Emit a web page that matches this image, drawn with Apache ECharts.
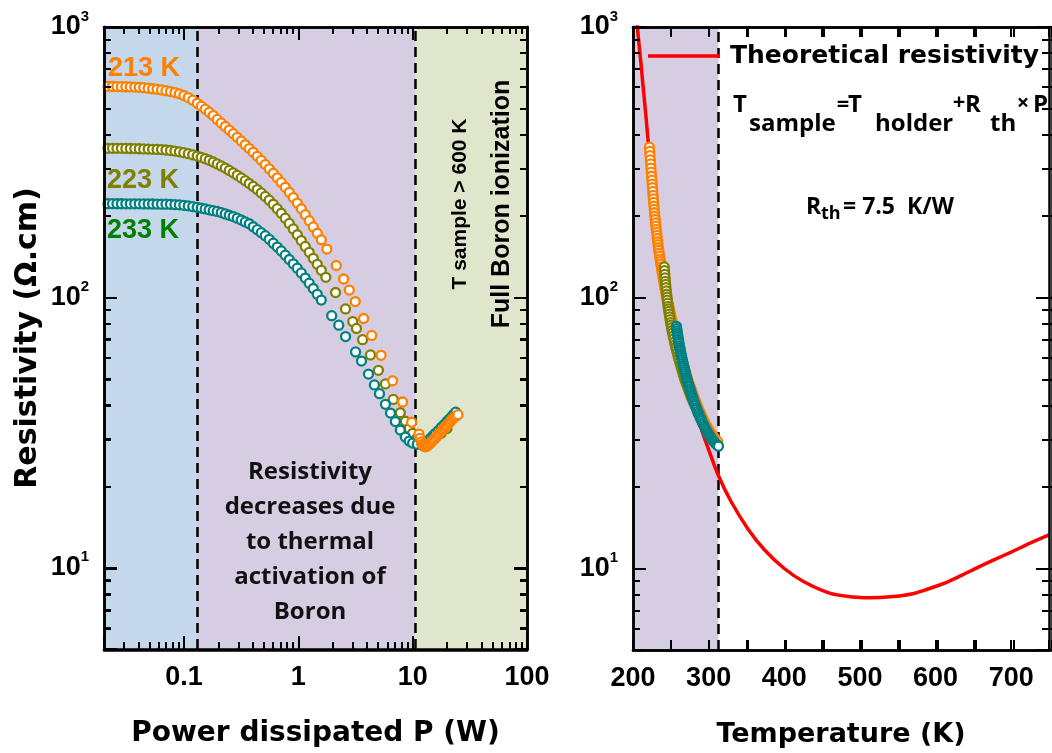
<!DOCTYPE html>
<html><head><meta charset="utf-8">
<script src="https://cdn.jsdelivr.net/npm/echarts@6/dist/echarts.min.js"></script>
<style>html,body{margin:0;padding:0;background:#fff}
#c,#ticks{position:absolute;left:0;top:0;width:1052px;height:753px}
#c{z-index:1}
#ticks{pointer-events:none;z-index:2}</style>
</head><body><div id="c"></div><div id="ticks"></div>
<script>
// ---------------- data ----------------
// Left panel: power steps shared by the three holder temperatures (low / mid range)
const powerLow = [0.02168,0.02371,0.02594,0.02838,0.03105,0.03396,0.03715,0.04064,0.04446,0.04864,0.05321,0.05821,0.06368,0.06966,0.07621,0.08337,0.0912,0.0998,0.1091,0.1194,0.1306,0.1416,0.1535,0.1663,0.1803,0.1954,0.2118,0.2296,0.2489,0.2698,0.2924,0.3170,0.3436,0.3724,0.4036,0.4375,0.4742,0.5140,0.5572,0.6039,0.6546,0.7096,0.7691,0.8337,0.9036,0.9795,1.062,1.151,1.247,1.352,1.466,1.589];
const rho213Low = [602.6,602.4,602.1,601.7,601.2,600.3,599.4,598.0,596.2,593.9,591.0,588.3,585.1,581.3,577.0,572.1,566.0,557.9,548.0,536.1,522.3,509.6,496.8,483.7,470.4,455.0,441.6,428.5,415.7,403.0,390.7,378.6,366.7,355.0,343.8,332.4,321.1,309.8,298.7,287.7,276.8,266.0,255.2,244.5,233.8,223.2,212.6,202.2,192.1,182.2,172.6,163.3];
const rho223Low = [355.9,355.9,355.8,355.7,355.5,355.3,354.9,354.5,354.0,353.5,352.8,352.4,351.9,350.8,349.3,347.5,345.3,342.7,339.8,336.6,333.0,329.5,325.7,321.4,316.7,311.6,306.2,300.6,294.7,288.7,282.6,276.4,270.1,263.7,257.2,250.4,243.4,236.2,228.7,220.9,212.8,204.6,196.2,187.6,179.1,170.4,162.1,154.2,146.7,139.4,132.5,125.8];
const rho233Low = [222.0,222.0,221.9,221.9,221.8,221.8,221.7,221.7,221.6,221.5,221.4,221.3,221.1,221.0,220.8,220.4,219.8,218.9,217.9,216.6,215.3,213.8,212.3,210.7,209.2,207.9,205.8,203.5,201.2,198.9,196.3,193.2,190.1,187.1,182.4,177.9,173.4,169.1,163.9,158.6,153.4,148.4,143.2,138.0,133.0,128.2,123.1,117.8,112.8,107.8,102.6,97.7];
// Left panel: high-power parts
const power213High = [1.778,2.148,2.489,2.793,3.148,3.724,4.385,5.297,6.683,8.166,9.795,11.35,11.61,11.89,12.16,12.45,12.79,13.18,13.58,14.00,14.42,14.86,15.31,15.78,16.26,16.75,17.26,17.78,18.32,18.88,19.45,20.04,20.65,21.28,21.93,22.59,23.28,23.99,24.89];
const rho213High = [150.8,131.1,116.9,106.4,96.4,83.5,72.3,61.0,49.1,41.0,34.5,31.2,30.06,29.17,28.58,28.18,27.99,28.05,28.31,28.64,28.97,29.38,29.79,30.20,30.62,31.05,31.48,31.92,32.36,32.81,33.27,33.73,34.20,34.67,35.16,35.65,36.06,36.39,36.81];
const power223High = [1.742,2.118,2.588,2.992,3.228,3.648,4.276,5.023,5.781,6.776,7.798,8.630,9.33,10.0,10.96,12.02,13.18,14.45,15.85,17.78,19.95];
const rho223High = [118.6,104.2,90.6,81.3,76.7,69.7,61.2,53.7,47.8,41.9,37.4,34.8,32.7,31.4,30.2,29.5,29.4,29.6,30.3,31.4,32.7];
const power233High = [1.96,2.26,2.59,3.17,3.57,4.11,4.63,5.13,5.78,6.40,7.06,7.80,8.63,9.33,10.0,10.96,12.02,12.59,13.18,13.8,14.45,15.14,15.85,16.79,17.78,18.84,19.95,20.89,21.88,22.9,23.82];
const rho233High = [85.5,78.9,71.6,62.8,58.1,52.0,47.4,44.0,40.2,37.3,34.7,32.3,30.4,29.4,28.9,28.6,28.7,28.9,29.2,29.6,30.2,30.8,31.4,32.1,33.0,33.8,34.7,35.4,36.1,36.9,37.6];

// Right panel: resistivity vs sample temperature
const temp213 = [221.7,222.1,222.5,222.9,223.3,223.7,224.1,224.5,224.9,225.3,225.7,226.1,226.5,226.9,227.3,227.7,228.1,228.5,228.9,229.35,229.8,230.25,230.7,231.15,231.6,232.1,232.6,233.1,233.6,234.1,234.6,235.15,235.7,236.25,236.8,237.4,238,238.6,239.2,239.85,240.5,241.15,241.8,242.5,243.2,243.95,244.7,245.5,246.3,247.15,248,248.9,249.8,250.75,251.7,252.7,253.7,254.75,255.8,256.9,258,259.15,260.3,261.5,262.7,263.95,265.2,266.5,267.8,269.15,270.5,271.9,273.3,274.75,276.2,277.7,279.2,280.75,282.3,283.9,285.5,287.15,288.8,290.5,292.2,293.95,295.7,297.5,299.3,301.15,303,304.9,306.8,308.75,310.7,312];
const rhoT213 = [360,347,335,323,312,301,291,281,272,263,255,247,239,232,225,218,212,206,200,194.5,189,184,179,174.5,170,165.5,161,157,153,149.5,146,142.5,139,136,133,130,127,124,121,118,115,112.5,110,107.5,105,102.5,100,97.7,95.5,93.2,91,88.7,86.5,84.2,82,79.7,77.5,75.2,73,71,69,67,65,63.2,61.5,59.7,58,56.5,55,53.5,52,50.5,49,47.7,46.5,45.2,44,42.8,41.7,40.6,39.6,38.6,37.6,36.7,35.8,35,34.2,33.5,32.8,32.2,31.6,31.1,30.6,30.1,29.7,29.4];
const temp223 = [241.3,241.65,242,242.4,242.8,243.2,243.6,244.05,244.5,244.95,245.4,245.9,246.4,246.9,247.4,247.95,248.5,249.1,249.7,250.35,251,251.7,252.4,253.2,254,254.85,255.7,256.6,257.5,258.5,259.5,260.55,261.6,262.8,264,265.25,266.5,267.75,269,270.5,272,273.5,275,276.75,278.5,280.25,282,284,286,288,290];
const rhoT223 = [130,126,122,118.5,115,112,109,106,103,100.5,98,95.5,93,91,89,87,85,83,81,79.2,77.5,75.7,74,72.2,70.5,68.7,67,65.5,64,62.5,61,59.5,58,56.5,55,53.5,52,50.7,49.5,48.2,47,45.7,44.5,43.2,42,41,40,38.9,37.8,36.8,35.8];
const temp233 = [257.4,257.8,258.2,258.6,259,259.45,259.9,260.35,260.8,261.3,261.8,262.3,262.8,263.35,263.9,264.45,265,265.6,266.2,266.8,267.4,268.05,268.7,269.35,270,270.7,271.4,272.1,272.8,273.55,274.3,275.05,275.8,276.6,277.4,278.25,279.1,279.95,280.8,281.7,282.6,283.55,284.5,285.5,286.5,287.55,288.6,289.7,290.8,291.95,293.1,294.3,295.5,296.75,298,299.3,300.6,301.95,303.3,304.7,306.1,307.55,309,310.5,312,313];
const rhoT233 = [78.4,76.9,75.5,74.1,72.8,71.5,70.2,69,67.8,66.6,65.5,64.4,63.3,62.2,61.2,60.2,59.2,58.2,57.2,56.2,55.3,54.4,53.5,52.6,51.7,50.8,50,49.2,48.4,47.6,46.9,46.1,45.4,44.7,44,43.3,42.6,41.9,41.3,40.6,40,39.3,38.7,38,37.4,36.8,36.2,35.6,35.1,34.5,34,33.5,33,32.5,32,31.5,31.1,30.7,30.3,29.9,29.6,29.3,29,28.7,28.5,28.3];
const theoryT = [204,206,208,210,212.5,215,217.5,220,225,230,235,240,245,250,260,270,280,290,300,313,330,352,374,400,426,461,490,513,540,570,590,613,635,656,680,700,725,750];
const theoryRho = [1200,990,860,760,640,540,455,380,275,205,158,125,103,86,64,50,40.5,33,27.5,22.0,17.6,14.0,11.7,10.0,8.93,8.09,7.85,7.80,7.86,8.07,8.40,8.85,9.45,10.1,10.85,11.5,12.4,13.3];

const seriesNames = ['213 K', '223 K', '233 K'];
const seriesColors = ['#ff8000', '#808000', '#008080'];
const labelColors = ['#ff8000', '#808000', '#008000'];
const regionEdgesP = [0.02, 0.13, 10.5, 100];
const regionColorsP = ['#c4d7eb', '#d6cde2', '#dfe6cb'];
const regionEdgesT = [200, 313];
const regionColorT = '#d6cde2';
const powerRange = [0.02, 100];
const tempRange = [200, 750];
const rhoRange = [5, 1000];

// ---------------- helpers ----------------
const zip = (a, b) => a.map((v, i) => [v, b[i]]);
const isPow10 = v => { const l = Math.log10(v); return Math.abs(l - Math.round(l)) < 1e-6; };
const NUMFONT = '"Liberation Sans", Arial, sans-serif';
const TITLEFONT = '"DejaVu Sans", sans-serif';
const CAL = '"Open Sans", sans-serif';
const GRIDS = () => [
  {left: 104, top: 27, width: 423, height: 623},
  {left: 633, top: 27, width: 422, height: 623}
];

function baseAxis(grid, pos, type, range, tickLen, withMinor) {
  const ax = {
    type: type, gridIndex: grid, position: pos, min: range[0], max: range[1], z: 5,
    axisLine: {show: true, onZero: false, lineStyle: {color: '#000', width: 2.5}},
    axisTick: {show: true, inside: true, length: tickLen, lineStyle: {color: '#000', width: 2}},
    splitLine: {show: false}
  };
  if (type === 'value') ax.interval = 50;
  if (type === 'log') {
    ax.logBase = 10;
    ax.minorSplitLine = {show: false};
    ax.minorTick = {show: withMinor, splitNumber: 9, length: 7, lineStyle: {color: '#000', width: 2}};
  }
  return ax;
}

// ---- overlay chart first: the same axes (same grids, ranges, scales) drawing inward ticks ----
function frameAxis(grid, pos, type, range, tickLen, withMinor) {
  const ax = baseAxis(grid, pos, type, range, tickLen, withMinor);
  ax.axisLabel = {show: false};
  return ax;
}
try {
  const tickOption = {
    animation: false,
    backgroundColor: 'transparent',
    grid: GRIDS(),
    xAxis: [frameAxis(0, 'bottom', 'log', powerRange, 13, true), frameAxis(0, 'top', 'log', powerRange, 13, true),
            frameAxis(1, 'bottom', 'value', tempRange, 10, false), frameAxis(1, 'top', 'value', tempRange, 10, false)],
    yAxis: [frameAxis(0, 'left', 'log', rhoRange, 13, true), frameAxis(0, 'right', 'log', rhoRange, 13, true),
            frameAxis(1, 'left', 'log', rhoRange, 13, true), frameAxis(1, 'right', 'log', rhoRange, 13, true)],
    series: [
      {type: 'scatter', xAxisIndex: 0, yAxisIndex: 0, data: [], silent: true},
      {type: 'scatter', xAxisIndex: 2, yAxisIndex: 2, data: [], silent: true}
    ]
  };
  echarts.init(document.getElementById('ticks'), null, {renderer: 'canvas'}).setOption(tickOption);
} catch (e) { /* keep going */ }

function yLog(grid, pos, withLabel, name) {
  const ax = baseAxis(grid, pos, 'log', rhoRange, 13, true);
  ax.axisLabel = withLabel ? {
    show: true, margin: 15,
    formatter: v => isPow10(v) ? '{b|10}{s|' + Math.round(Math.log10(v)) + '}' : '',
    rich: {
      b: {fontFamily: NUMFONT, fontWeight: 'bold', fontSize: 27, color: '#000', lineHeight: 36, verticalAlign: 'middle'},
      s: {fontFamily: NUMFONT, fontWeight: 'bold', fontSize: 15, color: '#000', lineHeight: 16, verticalAlign: 'top'}
    }
  } : {show: false};
  if (name) {
    ax.name = name; ax.nameLocation = 'middle'; ax.nameGap = 61;
    ax.nameTextStyle = {fontFamily: TITLEFONT, fontWeight: 'bold', fontSize: 30, color: '#000'};
  }
  return ax;
}
function xPower(pos, withLabel) {
  const ax = baseAxis(0, pos, 'log', powerRange, 13, true);
  ax.axisLabel = withLabel ? {show: true, margin: 15, fontFamily: NUMFONT, fontWeight: 'bold', fontSize: 27, color: '#000',
    formatter: v => isPow10(v) ? String(+v.toPrecision(3)) : ''} : {show: false};
  if (withLabel) {
    ax.name = 'Power dissipated P (W)'; ax.nameLocation = 'middle'; ax.nameGap = 71;
    ax.nameTextStyle = {fontFamily: TITLEFONT, fontWeight: 'bold', fontSize: 28, color: '#000'};
  }
  return ax;
}
function xTemp(pos, withLabel) {
  const ax = baseAxis(1, pos, 'value', tempRange, 10, false);
  ax.axisLabel = withLabel ? {show: true, margin: 15, fontFamily: NUMFONT, fontWeight: 'bold', fontSize: 27, color: '#000',
    formatter: v => (v % 100 === 0 ? String(v) : '')} : {show: false};
  if (withLabel) {
    ax.name = 'Temperature (K)'; ax.nameLocation = 'middle'; ax.nameGap = 71;
    ax.nameTextStyle = {fontFamily: TITLEFONT, fontWeight: 'bold', fontSize: 27, color: '#000'};
  }
  return ax;
}
function scatter(name, xs, ys, color, xi, yi, z) {
  return {
    type: 'scatter', name: name, xAxisIndex: xi, yAxisIndex: yi, data: zip(xs, ys),
    symbol: 'circle', symbolSize: 9, z: z, clip: true, silent: true,
    itemStyle: {color: '#ffffff', borderColor: color, borderWidth: 2.3, opacity: 1}
  };
}
const dash = () => ({type: [10, 6], color: '#000', width: 2.5});
const txt = (x, y, text, font, extra) => ({type: 'text', z: 100, x: x, y: y,
  style: Object.assign({text: text, font: font, fill: '#000', textVerticalAlign: 'middle', verticalAlign: 'middle'}, extra || {})});

const option = {
  animation: false,
  backgroundColor: '#fff',
  grid: GRIDS(),
  xAxis: [xPower('bottom', true), xPower('top', false), xTemp('bottom', true), xTemp('top', false)],
  yAxis: [yLog(0, 'left', true, 'Resistivity (\u03A9.cm)'), yLog(0, 'right', false), yLog(1, 'left', true), yLog(1, 'right', false)],
  legend: {
    data: ['Theoretical resistivity'], left: 648, top: 41, padding: 0, icon: 'rect', itemWidth: 72, itemHeight: 3.5,
    selectedMode: false,
    textStyle: {fontFamily: TITLEFONT, fontWeight: 'bold', fontSize: 25, color: '#000', padding: [0, 0, 0, 5], lineHeight: 30}
  },
  series: [
    {
      type: 'scatter', name: 'regionsP', xAxisIndex: 0, yAxisIndex: 0, data: [], silent: true,
      markArea: {silent: true, z: 1, data: regionColorsP.map((c, i) => [{xAxis: regionEdgesP[i], itemStyle: {color: c}}, {xAxis: regionEdgesP[i + 1]}])},
      markLine: {silent: true, z: 1, symbol: 'none', label: {show: false}, lineStyle: dash(),
        data: [{xAxis: regionEdgesP[1]}, {xAxis: regionEdgesP[2]}]}
    },
    {
      type: 'scatter', name: 'regionsT', xAxisIndex: 2, yAxisIndex: 2, data: [], silent: true,
      markArea: {silent: true, z: 1, data: [[{xAxis: regionEdgesT[0], itemStyle: {color: regionColorT}}, {xAxis: regionEdgesT[1]}]]},
      markLine: {silent: true, z: 1, symbol: 'none', label: {show: false}, lineStyle: dash(),
        data: [{xAxis: regionEdgesT[1]}]}
    },
    scatter(seriesNames[1], powerLow.concat(power223High), rho223Low.concat(rho223High), seriesColors[1], 0, 0, 3),
    scatter(seriesNames[2], powerLow.concat(power233High), rho233Low.concat(rho233High), seriesColors[2], 0, 0, 4),
    scatter(seriesNames[0], powerLow.concat(power213High), rho213Low.concat(rho213High), seriesColors[0], 0, 0, 5),
    {
      type: 'line', name: 'Theoretical resistivity', xAxisIndex: 2, yAxisIndex: 2,
      data: zip(theoryT, theoryRho), showSymbol: false, smooth: 0.3, clip: true, z: 2,
      lineStyle: {color: '#ff0000', width: 3.5}, itemStyle: {color: '#ff0000'}
    },
    scatter(seriesNames[0] + ' T', temp213, rhoT213, seriesColors[0], 2, 2, 3),
    scatter(seriesNames[1] + ' T', temp223, rhoT223, seriesColors[1], 2, 2, 4),
    scatter(seriesNames[2] + ' T', temp233, rhoT233, seriesColors[2], 2, 2, 5)
  ],
  graphic: [
    ...seriesNames.map((n, i) => txt([108, 107, 107][i], [69, 181, 231][i], n, 'bold 27px ' + NUMFONT, {fill: labelColors[i]})),
    {type: 'text', z: 100, x: 310, y: 455,
      style: {text: 'Resistivity\ndecreases due\nto thermal\nactivation of\nBoron', font: 'bold 24px ' + CAL, fill: '#111',
        lineHeight: 35, textAlign: 'center', align: 'center', textVerticalAlign: 'top', verticalAlign: 'top'}},
    Object.assign(txt(460, 204, 'T sample > 600 K', 'bold 21px ' + NUMFONT, {textAlign: 'center', align: 'center'}), {rotation: Math.PI / 2}),
    Object.assign(txt(502, 204, 'Full Boron ionization', 'bold 25px ' + NUMFONT, {textAlign: 'center', align: 'center'}), {rotation: Math.PI / 2}),
    // formula
    txt(733, 105, 'T', 'bold 24px ' + CAL),
    txt(749, 124, 'sample', 'bold 24px ' + CAL),
    txt(843, 105, '=', 'bold 22px ' + CAL, {textAlign: 'center', align: 'center'}),
    txt(848, 105, 'T', 'bold 24px ' + CAL),
    txt(875, 124, 'holder', 'bold 24px ' + CAL),
    txt(959, 103, '+', 'bold 22px ' + CAL, {textAlign: 'center', align: 'center'}),
    txt(965, 105, 'R', 'bold 24px ' + CAL),
    txt(990, 124, 'th', 'bold 24px ' + CAL),
    txt(1023, 103.5, '\u00D7', 'bold 22px ' + CAL, {textAlign: 'center', align: 'center'}),
    txt(1033, 105, 'P', 'bold 24px ' + CAL),
    // R_th
    txt(806, 207, 'R', 'bold 23px ' + CAL),
    txt(821, 214, 'th', 'bold 18px ' + CAL),
    txt(843, 207, '= 7.5  K/W', 'bold 23px ' + CAL)
  ]
};

try {
  echarts.init(document.getElementById('c'), null, {renderer: 'canvas'}).setOption(option);
} catch (e) { /* keep the rest of the page */ }
</script>
</body></html>
